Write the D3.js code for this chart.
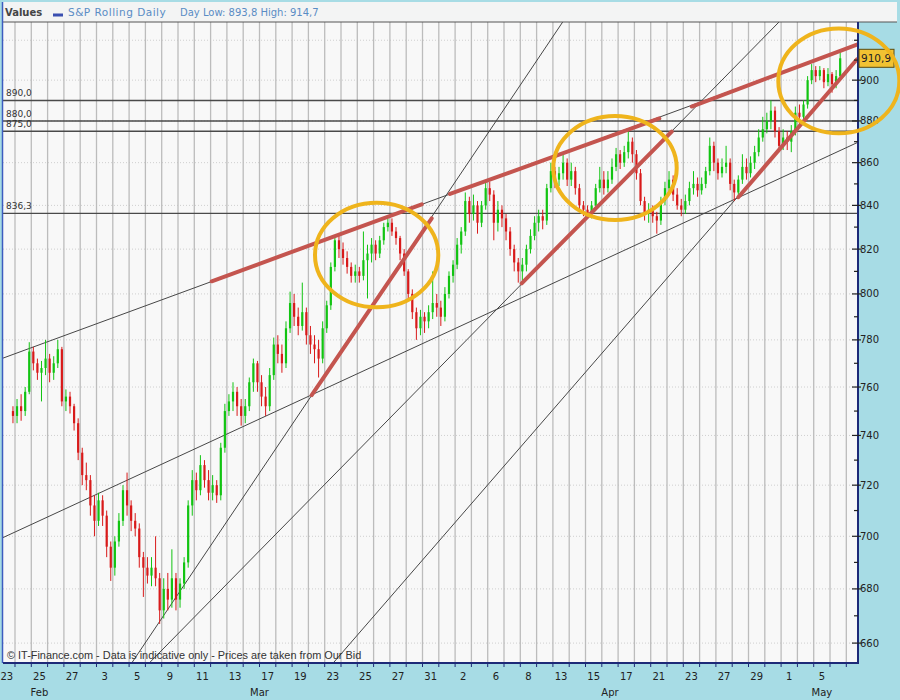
<!DOCTYPE html>
<html><head><meta charset="utf-8">
<script src="https://cdnjs.cloudflare.com/ajax/libs/d3/7.8.5/d3.min.js"></script>
<style>
html,body{margin:0;padding:0;background:#a7dce5;}
svg{display:block;}
</style></head><body>
<svg id="chart" width="900" height="700"></svg>
<script>
// ---------------- DATA ----------------
const tradingDays = ["Feb 23","Feb 24","Feb 25","Feb 26","Feb 27",
  "Mar 2","Mar 3","Mar 4","Mar 5","Mar 6","Mar 9","Mar 10","Mar 11","Mar 12","Mar 13",
  "Mar 16","Mar 17","Mar 18","Mar 19","Mar 20","Mar 23","Mar 24","Mar 25","Mar 26","Mar 27",
  "Mar 30","Mar 31","Apr 1","Apr 2","Apr 3","Apr 6","Apr 7","Apr 8","Apr 9",
  "Apr 13","Apr 14","Apr 15","Apr 16","Apr 17","Apr 20","Apr 21","Apr 22","Apr 23","Apr 24",
  "Apr 27","Apr 28","Apr 29","Apr 30","May 1","May 4","May 5","May 6","May 7"];

// intraday candles, 4 per trading day, first candle = last quarter of Feb 23
const opens = [750,
 748,752,750,758, 775,770,766,768, 772,766,770,776, 754,756,752,745,
 733,724,722,712, 706,714,708,696, 688,698,706,718, 712,706,703,692, 688,685,688,684,
 672,680,676,684, 676,682,690,712, 722,718,728,722, 717,720,716,735, 750,754,758,752,
 748,752,762,770, 762,756,752,765, 778,774,770,785, 796,790,786,792, 782,778,776,772,
 785,795,812,824, 820,816,812,808, 810,808,815,818, 822,818,824,830, 832,828,825,818,
 810,800,792,785, 790,788,792,796, 794,790,800,808, 813,822,828,842, 836,840,832,840,
 848,845,832,838, 834,828,820,814, 810,813,820,826, 832,835,833,848,
 856,852,855,860, 852,856,848,840, 838,836,840,848, 852,848,852,858, 864,860,865,870,
 864,855,842,836, 838,835,833,842, 848,852,845,840, 838,842,848,850, 847,850,856,868,
 860,855,858,860, 850,846,852,858, 855,860,865,872, 876,880,885,875, 868,872,870,875,
 884,882,888,900, 905,902,905,899, 903,898,902];
const highs = [752,
 755,757,760,779, 777,772,771,780, 774,773,780,777, 759,758,753,747,
 735,729,724,716, 717,716,710,698, 700,709,720,725, 714,709,705,694, 692,692,700,686,
 684,686,695,686, 684,692,714,726, 725,732,730,726, 724,722,737,753, 757,762,760,755,
 755,764,772,771, 765,760,768,781, 782,778,788,801, 800,794,805,794, 786,782,780,788,
 797,814,826,827, 823,819,814,813, 812,828,822,825, 824,826,832,834, 834,830,826,820,
 811,802,794,793, 792,795,810,800, 797,803,810,815, 825,830,846,844, 845,842,842,851,
 851,847,842,840, 836,830,822,816, 816,822,829,835, 838,838,850,860,
 858,858,865,862, 860,858,850,842, 840,842,850,858, 856,856,862,867, 866,868,875,872,
 866,857,844,841, 840,837,844,851, 856,854,848,843, 845,851,856,853, 853,858,872,870,
 862,862,868,862, 852,854,864,862, 863,868,876,882, 884,890,887,877, 876,875,878,887,
 888,890,902,908, 907,907,906,906, 904,905,914.7];
const lows = [745,
 745,746,748,757, 767,763,754,765, 762,763,768,752, 750,749,742,730,
 720,718,708,700, 704,704,692,683, 685,696,704,708, 702,700,688,677, 682,681,681,667,
 669,672,673,672, 673,680,688,708, 714,716,719,714, 714,713,714,733, 748,750,748,744,
 745,750,758,758, 752,748,750,763, 770,766,768,783, 786,782,784,778, 774,770,764,770,
 783,793,810,816, 813,809,805,805, 805,806,798,814, 815,816,822,828, 826,822,815,808,
 797,789,780,782, 783,785,789,790, 786,788,798,805, 811,818,826,832, 833,827,830,838,
 842,824,828,830, 824,817,810,805, 806,810,818,824, 828,829,831,846,
 848,849,852,849, 849,845,838,835, 834,834,838,846, 845,846,850,856, 857,858,862,860,
 852,840,833,832, 832,827,831,840, 846,842,838,835, 836,840,845,844, 845,848,854,856,
 852,853,855,847, 842,843,850,852, 853,857,863,870, 874,876,872,865, 866,866,865,873,
 878,880,886,898, 899,900,896,897, 893.8,896,901];
const closes = [748,
 752,750,758,775, 770,766,768,772, 766,770,776,754, 756,752,745,733,
 724,722,712,706, 714,708,696,688, 698,706,718,712, 706,703,692,688, 685,688,684,672,
 680,676,684,676, 682,690,712,722, 718,728,722,717, 720,716,735,750, 754,758,752,748,
 752,762,770,762, 756,752,765,778, 774,770,785,796, 790,786,792,782, 778,776,772,785,
 795,812,824,820, 816,812,808,810, 808,815,818,822, 818,824,830,832, 828,825,818,810,
 800,792,785,790, 788,792,796,794, 790,800,808,813, 822,828,842,836, 840,832,840,848,
 845,832,838,834, 828,820,814,810, 813,820,826,832, 835,833,848,856,
 852,855,860,852, 856,848,840,838, 836,840,848,852, 848,852,858,864, 860,865,870,864,
 855,842,836,838, 835,833,842,848, 852,845,840,838, 842,848,850,847, 850,856,868,860,
 855,858,860,850, 846,852,858,855, 860,865,872,876, 880,885,875,868, 872,870,875,884,
 882,888,900,905, 902,905,899,903, 898,902,910.9];
const candlesPerDay = 4;
const firstSlot = 3;

const yTickValues = [660,680,700,720,740,760,780,800,820,840,860,880,900];
const yMinorValues = [670,690,710,730,750,770,790,810,830,850,870,890,910,920];
const yGridValues = [660,680,700,720,740,760,780,800,820,840,860,880,900,920];

const supportLevels = [890, 880, 875, 836.3];

// trend lines in (trading-day index, price)
const trendLines = [
  {d0:-0.236, v0:772.2, d1:52.156, v1:917.8},
  {d0:-0.236, v0:699.5, d1:52.156, v1:869.5},
  {d0:7.696,  v0:653.1, d1:34.101, v1:929.3},
  {d0:8.788,  v0:653.1, d1:47.371, v1:929.3},
  {d0:20.064, v0:653.1, d1:52.156, v1:910.4}
];
const highlightSegments = [
  {d0:12.567, v0:805.6, d1:25.451, v1:840.5},
  {d0:27.187, v0:845.3, d1:40.028, v1:881.2},
  {d0:42.015, v0:887.0, d1:52.156, v1:917.8},
  {d0:18.702, v0:756.6, d1:26.064, v1:834.0},
  {d0:31.586, v0:804.7, d1:40.788, v1:874.8},
  {d0:44.874, v0:843.8, d1:52.156, v1:910.4}
];
const highlightEllipses = [
  {d0:18.905, d1:26.469, vLow:794.1, vHigh:841.2},
  {d0:33.524, d1:41.095, vLow:833.3, vHigh:882.4},
  {d0:47.328, d1:54.752, vLow:874.0, vHigh:926.0}
];
const lastValue = 910.9;
const legendLabel = "Values";
const seriesName = "S&P Rolling Daily";
const dayInfo = "Day Low: 893,8 High: 914,7";
const footerText = "\u00A9 IT-Finance.com - Data is indicative only - Prices are taken from Our Bid";

// ---------------- LAYOUT ----------------
const L = 3, R = 857, T = 22, B = 663;
const svg = d3.select("#chart");
const x = d3.scaleLinear().domain([-0.236, 52.156]).range([L, R]);
const y = d3.scaleLog().domain([652.8, 929.3]).range([B, T]);
const fmt = v => d3.format(".1f")(v).replace(".", ",");

svg.append("rect").attr("width",900).attr("height",700).attr("fill","#a7dce5");
// legend strip
svg.append("rect").attr("x",2).attr("y",2).attr("width",895).attr("height",20).attr("fill","#f3f4f4");
// plot background
svg.append("rect").attr("x",L).attr("y",T).attr("width",R-L).attr("height",B-T).attr("fill","#f8f8f8");

svg.append("defs").append("clipPath").attr("id","plotclip")
  .append("rect").attr("x",L).attr("y",T).attr("width",R-L).attr("height",B-T);
const plot = svg.append("g").attr("clip-path","url(#plotclip)");

// horizontal dotted grid
plot.selectAll(".hg").data(yGridValues).enter().append("line")
  .attr("x1",L).attr("x2",R).attr("y1",d=>y(d)).attr("y2",d=>y(d))
  .attr("stroke","#cfcfcf").attr("stroke-width",1).attr("stroke-dasharray","1,2");
// vertical grid at day boundaries
const boundaries = d3.range(0, tradingDays.length - 1).map(i => i + 0.5);
plot.selectAll(".vg").data(boundaries).enter().append("line")
  .attr("x1",d=>x(d)).attr("x2",d=>x(d)).attr("y1",T).attr("y2",B)
  .attr("stroke","#bcbcbc").attr("stroke-width",1.3);

// support / resistance levels
plot.selectAll(".sl").data(supportLevels).enter().append("line")
  .attr("x1",L).attr("x2",R).attr("y1",d=>y(d)).attr("y2",d=>y(d))
  .attr("stroke","#4a4a4a").attr("stroke-width",1.4);
svg.selectAll(".slt").data(supportLevels).enter().append("text")
  .attr("x",6).attr("y",d=>y(d)-4)
  .attr("font-family","DejaVu Sans").attr("font-size",9).attr("fill","#333")
  .text(d=>fmt(d));

// thin trend lines
plot.selectAll(".tl").data(trendLines).enter().append("line")
  .attr("x1",d=>x(d.d0)).attr("y1",d=>y(d.v0)).attr("x2",d=>x(d.d1)).attr("y2",d=>y(d.v1))
  .attr("stroke","#474747").attr("stroke-width",1);

// footer
svg.append("text").attr("x",7).attr("y",659)
  .attr("font-family","Liberation Sans, Arial").attr("font-size",10.9).attr("fill","#333")
  .text(footerText);

// candles
const candles = closes.map((c,i) => {
  const s = firstSlot + i;
  const day = Math.floor(s / candlesPerDay), q = s % candlesPerDay;
  return {pos: day - 0.5 + (q + 0.5) / candlesPerDay, o: opens[i], h: highs[i], l: lows[i], c: c};
});
const cg = plot.append("g");
candles.forEach(d => {
  const col = d.c >= d.o ? "#12c412" : "#d81a1a";
  const cx = x(d.pos);
  cg.append("line").attr("x1",cx).attr("x2",cx).attr("y1",y(d.h)).attr("y2",y(d.l))
    .attr("stroke",col).attr("stroke-width",1);
  const yt = y(Math.max(d.o,d.c)), yb = y(Math.min(d.o,d.c));
  cg.append("rect").attr("x",cx-1.1).attr("width",2.2)
    .attr("y",yt).attr("height",Math.max(1,yb-yt)).attr("fill",col);
});

// highlighted (red) trend segments
plot.selectAll(".hs").data(highlightSegments).enter().append("line")
  .attr("x1",d=>x(d.d0)).attr("y1",d=>y(d.v0)).attr("x2",d=>x(d.d1)).attr("y2",d=>y(d.v1))
  .attr("stroke","#c4554f").attr("stroke-width",4).attr("stroke-linecap","round");

// borders & axes
svg.append("line").attr("x1",2).attr("x2",897).attr("y1",T).attr("y2",T).attr("stroke","#555").attr("stroke-width",1);
svg.append("line").attr("x1",2.5).attr("x2",2.5).attr("y1",2).attr("y2",B).attr("stroke","#3d5cc0").attr("stroke-width",1.5);
svg.append("line").attr("x1",L).attr("x2",R+2).attr("y1",B).attr("y2",B).attr("stroke","#1d2a78").attr("stroke-width",2);
svg.append("line").attr("x1",R+1).attr("x2",R+1).attr("y1",T).attr("y2",B+1).attr("stroke","#1d2a78").attr("stroke-width",2);

// right axis ticks & labels
svg.selectAll(".ymt").data(yMinorValues).enter().append("line")
  .attr("x1",R-3).attr("x2",R+1).attr("y1",d=>y(d)).attr("y2",d=>y(d))
  .attr("stroke","#222").attr("stroke-width",1.2);
svg.selectAll(".yt").data(yTickValues).enter().append("line")
  .attr("x1",R-5).attr("x2",R+4).attr("y1",d=>y(d)).attr("y2",d=>y(d))
  .attr("stroke","#222").attr("stroke-width",1.2);
svg.selectAll(".ytl").data(yTickValues).enter().append("text")
  .attr("x",R+3).attr("y",d=>y(d)).attr("dy","0.35em")
  .attr("font-family","DejaVu Sans").attr("font-size",10).attr("fill","#222")
  .text(d=>d);

// bottom ticks & labels
svg.selectAll(".xt").data(boundaries).enter().append("line")
  .attr("x1",d=>x(d)).attr("x2",d=>x(d)).attr("y1",B).attr("y2",B+4)
  .attr("stroke","#1d2a78").attr("stroke-width",1);
const dayTicks = tradingDays.map((d,i)=>({i, label: d.split(" ")[1]})).filter(d => d.i % 2 === 0 && d.i < 51);
svg.selectAll(".xtl").data(dayTicks).enter().append("text")
  .attr("x",d=>x(d.i)).attr("y",680).attr("text-anchor","middle")
  .attr("font-family","DejaVu Sans").attr("font-size",10).attr("fill","#222")
  .text(d=>d.label);
const monthGroups = d3.groups(tradingDays.map((d,i)=>({m:d.split(" ")[0], i})), d=>d.m)
  .map(([m, arr]) => ({m, c: d3.mean(arr, a=>a.i)}));
svg.selectAll(".mtl").data(monthGroups).enter().append("text")
  .attr("x",d=>x(d.c)).attr("y",696).attr("text-anchor","middle")
  .attr("font-family","DejaVu Sans").attr("font-size",10).attr("fill","#222")
  .text(d=>d.m);

// last value box
const lvY = y(lastValue);
svg.append("rect").attr("x",R+2).attr("y",lvY-9).attr("width",35).attr("height",18)
  .attr("fill","#f1c232").attr("stroke","#5a4a10").attr("stroke-width",1);
svg.append("text").attr("x",R+4).attr("y",lvY).attr("dy","0.36em")
  .attr("font-family","DejaVu Sans").attr("font-size",10.5).attr("fill","#222")
  .text(fmt(lastValue));

// highlight ellipses
svg.selectAll(".he").data(highlightEllipses).enter().append("ellipse")
  .attr("cx",d=>(x(d.d0)+x(d.d1))/2).attr("cy",d=>(y(d.vLow)+y(d.vHigh))/2)
  .attr("rx",d=>(x(d.d1)-x(d.d0))/2).attr("ry",d=>(y(d.vLow)-y(d.vHigh))/2)
  .attr("fill","none").attr("stroke","#efb41c").attr("stroke-width",4);

// legend
svg.append("text").attr("x",5).attr("y",16)
  .attr("font-family","DejaVu Sans").attr("font-size",10).attr("font-weight","bold").attr("fill","#444")
  .text(legendLabel);
svg.append("rect").attr("x",53).attr("y",13.5).attr("width",10).attr("height",3).attr("fill","#3a4fb0");
svg.append("text").attr("x",68).attr("y",16)
  .attr("font-family","DejaVu Sans").attr("font-size",10.5).attr("letter-spacing",0.5).attr("fill","#5a8cc4")
  .text(seriesName);
svg.append("text").attr("x",180).attr("y",16)
  .attr("font-family","DejaVu Sans").attr("font-size",10).attr("fill","#5a8cc4")
  .text(dayInfo);
</script></body></html>
